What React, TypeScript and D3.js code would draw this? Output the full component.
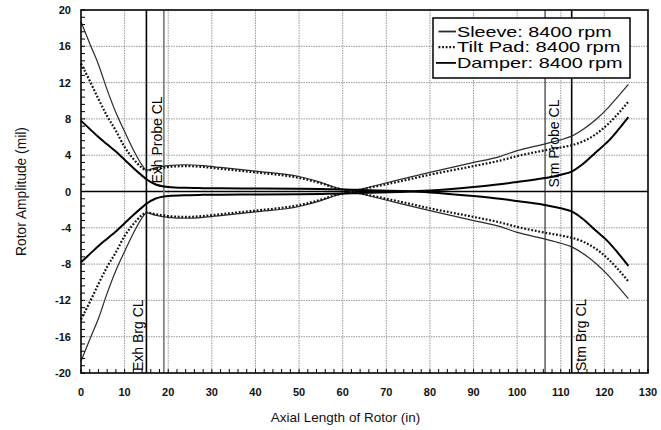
import React from "react";
import * as d3 from "d3";

// Axial stations along the rotor (in)
const axialPos = [0, 2, 4, 6, 8, 10, 12, 14, 15, 17, 20, 24, 28, 32, 40, 50, 55, 58, 62, 66, 73, 80, 90, 96, 100, 106, 110, 112.5, 115, 118, 121, 123, 125.5];

// Rotor amplitude (mil) for each bearing type at 8400 rpm
const sleeveAmp = [18.7, 16.3, 14.0, 11.2, 8.7, 6.6, 4.6, 2.9, 2.35, 2.6, 2.85, 2.95, 2.85, 2.65, 2.25, 1.65, 1.0, 0.5, 0, -0.47, -1.3, -2.1, -3.2, -3.85, -4.5, -5.2, -5.7, -6.1, -6.8, -7.9, -9.3, -10.4, -11.8];
const tiltPadAmp = [14.1, 12.2, 10.2, 8.3, 6.7, 4.9, 3.6, 2.6, 2.3, 2.5, 2.7, 2.8, 2.7, 2.5, 2.1, 1.5, 0.9, 0.45, 0, -0.4, -1.1, -1.85, -2.8, -3.4, -3.9, -4.5, -4.85, -5.1, -5.5, -6.3, -7.5, -8.5, -9.9];
const damperAmp = [7.8, 6.9, 6.0, 5.2, 4.4, 3.5, 2.6, 1.75, 1.35, 0.8, 0.5, 0.4, 0.37, 0.35, 0.33, 0.3, 0.27, 0.24, 0.2, 0.15, 0.05, -0.1, -0.5, -0.8, -1.05, -1.45, -1.85, -2.2, -3.0, -4.3, -5.6, -6.7, -8.2];

const seriesNames = ["Sleeve: 8400 rpm", "Tilt Pad: 8400 rpm", "Damper: 8400 rpm"];

// Probe and bearing centerlines (in)
const markerPos = [15, 19, 106.4, 112.5];
const markerLabels = ["Exh Brg CL", "Exh Probe CL", "Stm Probe CL", "Stm Brg CL"];

const xTicks = [0, 10, 20, 30, 40, 50, 60, 70, 80, 90, 100, 110, 120, 130];
const yTicks = [-20, -16, -12, -8, -4, 0, 4, 8, 12, 16, 20];

const W = 661;
const H = 430;
const plot = { left: 81, right: 648, top: 10, bottom: 373 };
const FONT = "'Liberation Sans', Arial, Helvetica, sans-serif";

export default function App() {
  const x = d3.scaleLinear().domain([0, 130]).range([plot.left, plot.right]);
  const y = d3.scaleLinear().domain([-20, 20]).range([plot.bottom, plot.top]);

  const lineGen = (vals: number[], sign: number) =>
    d3
      .line<number>()
      .x((_, i) => x(axialPos[i]))
      .y((v) => y(sign * v))
      .curve(d3.curveMonotoneX)(vals) as string;

  const styles = [
    { data: sleeveAmp, stroke: "#2a2a2a", width: 1.2, dash: undefined as string | undefined },
    { data: tiltPadAmp, stroke: "#111", width: 2.2, dash: "1.8,1.8" },
    { data: damperAmp, stroke: "#000", width: 2, dash: undefined as string | undefined },
  ];

  const xMinor = d3.range(0, 130.01, 2);
  const yMinor = d3.range(-20, 20.01, 0.8);

  const markerStyle = [
    { stroke: "#000", width: 1.6 },
    { stroke: "#777", width: 1.6 },
    { stroke: "#222", width: 1.1 },
    { stroke: "#000", width: 1.6 },
  ];

  return (
    <svg width={W} height={H} style={{ position: "absolute", left: 0, top: 0, background: "#fff" }} fontFamily={FONT}>
      <rect x={0} y={0} width={W} height={H} fill="#fff" />

      {/* grid */}
      {xTicks.slice(1, -1).map((t) => (
        <line key={"gx" + t} x1={x(t)} x2={x(t)} y1={plot.top} y2={plot.bottom} stroke="#999" strokeWidth={1} strokeDasharray="1.5,1" />
      ))}
      {yTicks.slice(1, -1).map((t) => (
        <line key={"gy" + t} x1={plot.left} x2={plot.right} y1={y(t)} y2={y(t)} stroke="#999" strokeWidth={1} strokeDasharray="1.5,1" />
      ))}

      {/* minor ticks */}
      {xMinor.map((t) => (
        <line key={"mx" + t} x1={x(t)} x2={x(t)} y1={plot.bottom} y2={plot.bottom - 4} stroke="#000" strokeWidth={1} />
      ))}
      {yMinor.map((t) => (
        <line key={"my" + t} x1={plot.left} x2={plot.left + 4} y1={y(t)} y2={y(t)} stroke="#000" strokeWidth={1} />
      ))}

      {/* zero line */}
      <line x1={plot.left} x2={plot.right} y1={y(0)} y2={y(0)} stroke="#000" strokeWidth={1.5} />

      {/* centerlines */}
      {markerPos.map((p, i) => (
        <line key={"m" + i} x1={x(p)} x2={x(p)} y1={plot.top} y2={plot.bottom} stroke={markerStyle[i].stroke} strokeWidth={markerStyle[i].width} />
      ))}

      {/* amplitude envelopes */}
      {styles.map((s, i) => (
        <g key={"s" + i}>
          {[1, -1].map((sign) => (
            <path key={sign} d={lineGen(s.data, sign)} fill="none" stroke={s.stroke} strokeWidth={s.width} strokeDasharray={s.dash} />
          ))}
        </g>
      ))}

      {/* centerline labels */}
      <text transform={`translate(${x(markerPos[0]) - 3},${plot.bottom - 2}) rotate(-90)`} fontSize={14} fill="#000">
        {markerLabels[0]}
      </text>
      <text transform={`translate(${x(markerPos[1]) - 2},${y(0) - 8}) rotate(-90)`} fontSize={14} fill="#000">
        {markerLabels[1]}
      </text>
      <text transform={`translate(${x(markerPos[2]) + 14},${y(0) - 4}) rotate(-90)`} fontSize={14} fill="#000">
        {markerLabels[2]}
      </text>
      <text transform={`translate(${x(markerPos[3]) + 14},${plot.bottom - 2}) rotate(-90)`} fontSize={14} fill="#000">
        {markerLabels[3]}
      </text>

      {/* frame */}
      <rect x={plot.left} y={plot.top} width={plot.right - plot.left} height={plot.bottom - plot.top} fill="none" stroke="#000" strokeWidth={1.6} />

      {/* axis tick labels */}
      {xTicks.map((t) => (
        <text key={"xl" + t} x={x(t)} y={396} textAnchor="middle" fontSize={11} fontWeight="bold" fill="#111">
          {t}
        </text>
      ))}
      {yTicks.map((t) => (
        <text key={"yl" + t} x={71} y={y(t) + 4} textAnchor="end" fontSize={11} fontWeight="bold" fill="#111">
          {t}
        </text>
      ))}

      {/* axis titles */}
      <text x={345.5} y={422} textAnchor="middle" fontSize={13.5} fill="#111">
        Axial Length of Rotor (in)
      </text>
      <text transform={`translate(26,${y(0)}) rotate(-90)`} textAnchor="middle" fontSize={13.8} fill="#111">
        Rotor Amplitude (mil)
      </text>

      {/* legend */}
      <rect x={433} y={18} width={197} height={60} fill="#fff" stroke="#000" strokeWidth={1.5} />
      {seriesNames.map((name, i) => {
        const cy = 31.5 + i * 15.7;
        const lens = [154.7, 163.5, 165.5];
        return (
          <g key={"lg" + i}>
            <line x1={i === 2 ? 436 : 438.5} x2={456} y1={cy} y2={cy} stroke={styles[i].stroke} strokeWidth={i === 1 ? 2.2 : 1.8} strokeDasharray={styles[i].dash} />
            <text x={457} y={cy + 5} fontSize={15} fill="#000" textLength={lens[i]} lengthAdjust="spacingAndGlyphs">
              {name}
            </text>
          </g>
        );
      })}
    </svg>
  );
}
